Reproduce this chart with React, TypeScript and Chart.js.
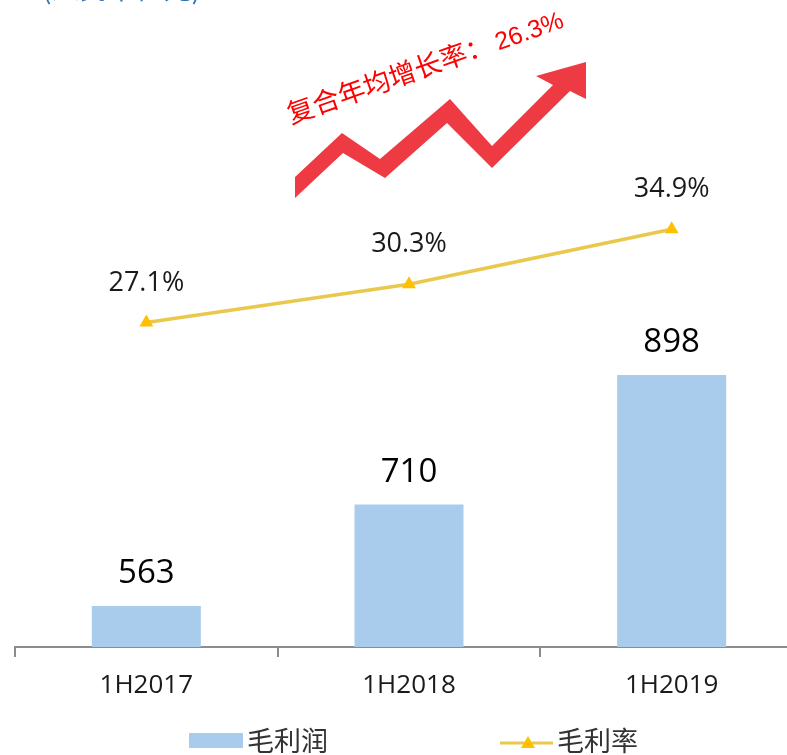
import React, { useEffect, useRef } from "react";
import { Chart, registerables } from "chart.js";

Chart.register(...registerables);

// ---- data ----
const categories = ["1H2017", "1H2018", "1H2019"];
const grossProfit = [563, 710, 898];
const grossMargin = [27.1, 30.3, 34.9];
const seriesNames = ["毛利润", "毛利率"];
const cagrLabel = "复合年均增长率：";
const cagrValue = "26.3%";
const unitText = "(人民币亿元)";

// ---- decoration (zig-zag growth arrow outline, canvas px) ----
const ARROW_SHAPE: [number, number][] = [
  [295, 177], [342, 133], [380, 159], [450, 99], [492, 146], [553, 85],
  [536, 76], [586, 62], [586, 99], [570, 91], [492, 168], [447, 123],
  [385, 178], [343, 153], [295, 198],
];

const BAR_COLOR = "#A9CBEC";
const LINE_COLOR = "#EAC84C";
const POINT_COLOR = "#FFC000";
const NUM_FONT = "'Open Sans', 'Noto Sans', sans-serif";
const CJK_FONT = "'Noto Sans CJK SC', sans-serif";

const overlayPlugin = {
  id: "overlay",
  afterDatasetsDraw(chart: any) {
    const ctx = chart.ctx as CanvasRenderingContext2D;
    ctx.save();
    // bar value labels
    const barMeta = chart.getDatasetMeta(0);
    ctx.fillStyle = "#000000";
    ctx.textAlign = "center";
    ctx.textBaseline = "alphabetic";
    ctx.font = `33px ${NUM_FONT}`;
    barMeta.data.forEach((el: any, i: number) => {
      ctx.fillText(String(grossProfit[i]), el.x, el.y - 23);
    });
    // line value labels
    const lineMeta = chart.getDatasetMeta(1);
    ctx.font = `27px ${NUM_FONT}`;
    ctx.fillStyle = "#1A1A1A";
    lineMeta.data.forEach((el: any, i: number) => {
      ctx.fillText(grossMargin[i].toFixed(1) + "%", el.x, el.y - 32);
    });

    // growth arrow
    ctx.beginPath();
    ARROW_SHAPE.forEach(([x, y], i) => (i === 0 ? ctx.moveTo(x, y) : ctx.lineTo(x, y)));
    ctx.closePath();
    ctx.fillStyle = "#EE3A43";
    ctx.fill();

    // CAGR annotation
    ctx.save();
    ctx.translate(291, 124);
    ctx.rotate((-19.5 * Math.PI) / 180);
    ctx.textAlign = "left";
    ctx.fillStyle = "#FF0000";
    ctx.font = `27px ${CJK_FONT}`;
    ctx.fillText(cagrLabel, 0, 0);
    const w = ctx.measureText(cagrLabel).width;
    ctx.font = `25px 'Liberation Sans', Arial, sans-serif`;
    ctx.fillText(cagrValue, w + 4, 0);
    ctx.restore();

    // partially visible unit title
    ctx.textAlign = "left";
    ctx.fillStyle = "#2E75B6";
    ctx.font = `28px ${CJK_FONT}`;
    ctx.fillText(unitText, 42, -1);

    // legend
    ctx.fillStyle = BAR_COLOR;
    ctx.fillRect(189, 733, 54, 15);
    ctx.fillStyle = "#333333";
    ctx.font = `27px ${CJK_FONT}`;
    ctx.textBaseline = "middle";
    ctx.fillText(seriesNames[0], 247, 741);

    ctx.strokeStyle = LINE_COLOR;
    ctx.lineWidth = 3;
    ctx.beginPath();
    ctx.moveTo(500, 743);
    ctx.lineTo(553, 743);
    ctx.stroke();
    ctx.fillStyle = POINT_COLOR;
    ctx.beginPath();
    ctx.moveTo(528, 736);
    ctx.lineTo(535, 748);
    ctx.lineTo(521, 748);
    ctx.closePath();
    ctx.fill();
    ctx.fillStyle = "#333333";
    ctx.fillText(seriesNames[1], 557, 741);
    ctx.restore();
  },
};

export default function App() {
  const ref = useRef<HTMLCanvasElement | null>(null);
  useEffect(() => {
    if (!ref.current) return;
    const chart = new Chart(ref.current, {
      type: "bar",
      data: {
        labels: categories,
        datasets: [
          {
            type: "bar",
            label: seriesNames[0],
            data: grossProfit,
            backgroundColor: BAR_COLOR,
            yAxisID: "y",
            barPercentage: 0.415,
            categoryPercentage: 1,
            order: 2,
          } as any,
          {
            type: "line",
            label: seriesNames[1],
            data: grossMargin,
            borderColor: LINE_COLOR,
            borderWidth: 3.5,
            pointStyle: "triangle",
            pointRadius: 8,
            pointBackgroundColor: POINT_COLOR,
            pointBorderColor: POINT_COLOR,
            pointBorderWidth: 0,
            yAxisID: "y2",
            order: 1,
            clip: false,
          } as any,
        ],
      },
      options: {
        responsive: false,
        animation: false,
        devicePixelRatio: 1,
        layout: { autoPadding: false, padding: { left: 15, right: 0, top: 0, bottom: 0 } },
        plugins: { legend: { display: false }, tooltip: { enabled: false } },
        scales: {
          x: {
            offset: true,
            grid: {
              display: true,
              drawOnChartArea: false,
              drawTicks: true,
              tickLength: 10,
              color: "#8C8C8C",
              lineWidth: 2,
              offset: true,
            },
            border: { display: true, color: "#8C8C8C", width: 2 },
            ticks: {
              font: { family: NUM_FONT, size: 26 },
              color: "#1A1A1A",
              padding: 13,
            },
            afterFit: (s: any) => {
              s.height = 108;
            },
          },
          y: { display: false, min: 503.5, max: 1441.7 },
          y2: { display: false, position: "right", min: 0, max: 54.05 },
        },
      } as any,
      plugins: [overlayPlugin],
    });
    return () => chart.destroy();
  }, []);

  return (
    <div
      style={{
        position: "fixed",
        left: 0,
        top: 0,
        width: 787,
        height: 755,
        overflow: "hidden",
        background: "#ffffff",
      }}
    >
      <canvas ref={ref} width={803} height={755} style={{ display: "block" }} />
    </div>
  );
}
